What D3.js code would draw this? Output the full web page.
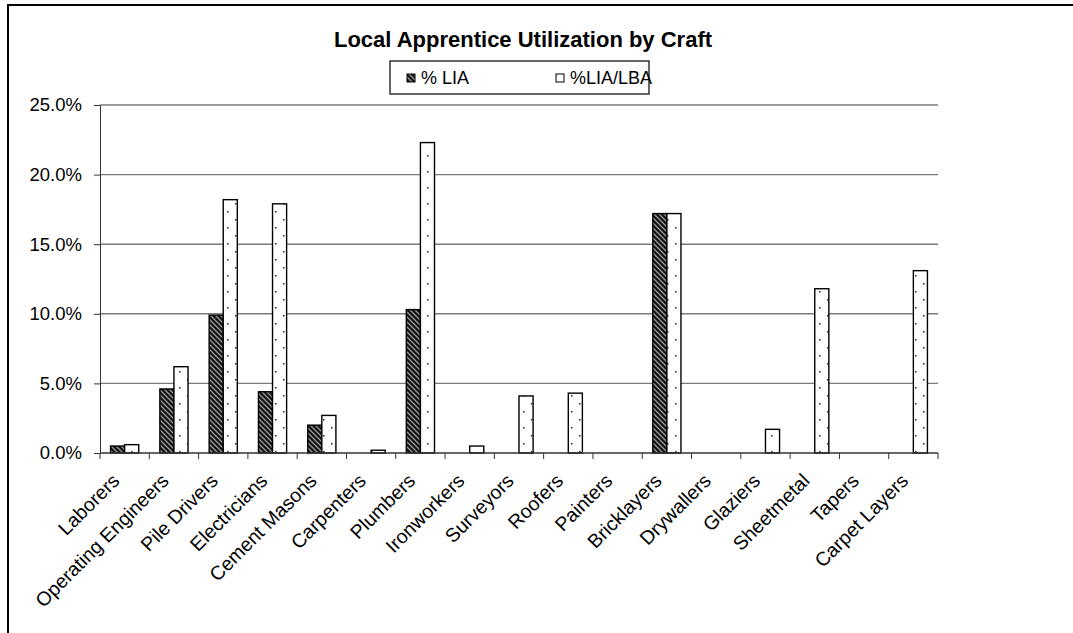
<!DOCTYPE html>
<html><head><meta charset="utf-8">
<script src="https://cdn.jsdelivr.net/npm/d3@7"></script>
<style>body{margin:0;background:#fff;} svg{display:block;font-family:"Liberation Sans",Arial,sans-serif;}</style>
</head><body>
<script>
const categories = ["Laborers","Operating Engineers","Pile Drivers","Electricians","Cement Masons","Carpenters","Plumbers","Ironworkers","Surveyors","Roofers","Painters","Bricklayers","Drywallers","Glaziers","Sheetmetal","Tapers","Carpet Layers"];
const seriesNames = ["% LIA","%LIA/LBA"];
const lia =    [0.005,0.046,0.099,0.044,0.020,0.000,0.103,0.000,0.000,0.000,0.000,0.172,0.000,0.000,0.000,0.000,0.000];
const liaLba = [0.006,0.062,0.182,0.179,0.027,0.002,0.223,0.005,0.041,0.043,0.000,0.172,0.000,0.017,0.118,0.000,0.131];
const yTicks = [0,0.05,0.10,0.15,0.20,0.25];

(function(){
const W=1073,H=633;
const FS=18;
const svg=d3.select("body").append("svg").attr("width",W).attr("height",H);
const defs=svg.append("defs");
const p1=defs.append("pattern").attr("id","stripe").attr("patternUnits","userSpaceOnUse").attr("width",5).attr("height",5);
p1.append("rect").attr("width",5).attr("height",5).attr("fill","#111");
p1.append("path").attr("d","M-1,-1 L6,6 M-1,4 L1,6 M4,-1 L6,1").attr("stroke","#9a9a9a").attr("stroke-width",1.3);
const p2=defs.append("pattern").attr("id","dots").attr("patternUnits","userSpaceOnUse").attr("width",16).attr("height",16);
p2.append("rect").attr("width",16).attr("height",16).attr("fill","#fff");
p2.append("rect").attr("x",3).attr("y",3).attr("width",1.5).attr("height",1.5).attr("fill","#222");
p2.append("rect").attr("x",11).attr("y",11).attr("width",1.5).attr("height",1.5).attr("fill","#222");

svg.append("path").attr("d",`M8,${H} L8,5 L${W},5`).attr("fill","none").attr("stroke","#000").attr("stroke-width",2);

const pl=100,pr=938,pt=105,pb=453;
const x=d3.scaleBand().domain(categories).range([pl,pr]).paddingInner(0).paddingOuter(0);
const bw=x.bandwidth()/3.5;
const y=d3.scaleLinear().domain([0,0.25]).range([pb,pt]);

svg.append("g").selectAll("line").data(yTicks.filter(d=>d>0)).join("line")
  .attr("x1",pl).attr("x2",pr).attr("y1",d=>y(d)).attr("y2",d=>y(d))
  .attr("stroke","#7a7a7a").attr("stroke-width",1.4);

const series=[lia,liaLba];
const fills=["url(#stripe)","url(#dots)"];
series.forEach((vals,si)=>{
  svg.append("g").selectAll("rect").data(categories.map((c,i)=>({c,v:vals[i]})).filter(d=>d.v>0)).join("rect")
    .attr("x",d=>x(d.c)+x.bandwidth()/2-bw+si*bw)
    .attr("y",d=>y(d.v)).attr("width",bw).attr("height",d=>pb-y(d.v))
    .attr("fill",fills[si]).attr("stroke","#000").attr("stroke-width",1.4);
});

const yAxis=svg.append("g").attr("transform",`translate(${pl},0)`)
  .call(d3.axisLeft(y).tickValues(yTicks).tickFormat(d3.format(".1%")).tickSize(6).tickSizeOuter(0).tickPadding(12));
yAxis.select(".domain").attr("stroke","#333");
yAxis.selectAll("line").attr("stroke","#333");
yAxis.selectAll("text").attr("font-size",18.5).attr("fill","#000").attr("font-family","Liberation Sans, Arial, sans-serif");

const xAxis=svg.append("g").attr("transform",`translate(0,${pb})`);
xAxis.append("line").attr("x1",pl).attr("x2",pr).attr("stroke","#333").attr("stroke-width",1.4);
const bounds=categories.map(c=>x(c)).concat([pr]);
xAxis.selectAll("line.t").data(bounds).join("line").attr("class","t")
  .attr("x1",d=>d).attr("x2",d=>d).attr("y1",0).attr("y2",6).attr("stroke","#333");
xAxis.selectAll("text").data(categories).join("text")
  .attr("transform",d=>`translate(${x(d)+x.bandwidth()/2-4},${29}) rotate(-45)`)
  .attr("text-anchor","end").attr("font-size",19.5).attr("fill","#000").text(d=>d);

svg.append("text").attr("x",523).attr("y",47).attr("text-anchor","middle")
  .attr("font-size",22).attr("font-weight","bold").text("Local Apprentice Utilization by Craft");

const lg=svg.append("g");
lg.append("rect").attr("x",390).attr("y",61).attr("width",259).attr("height",33).attr("fill","#fff").attr("stroke","#000").attr("stroke-width",1.2);
const lx=[407,556];
seriesNames.forEach((n,i)=>{
  lg.append("rect").attr("x",lx[i]).attr("y",74).attr("width",8).attr("height",8).attr("fill",fills[i]).attr("stroke","#000").attr("stroke-width",1);
  lg.append("text").attr("x",lx[i]+14).attr("y",84).attr("font-size",FS).text(n);
});
})();
</script>
</body></html>
